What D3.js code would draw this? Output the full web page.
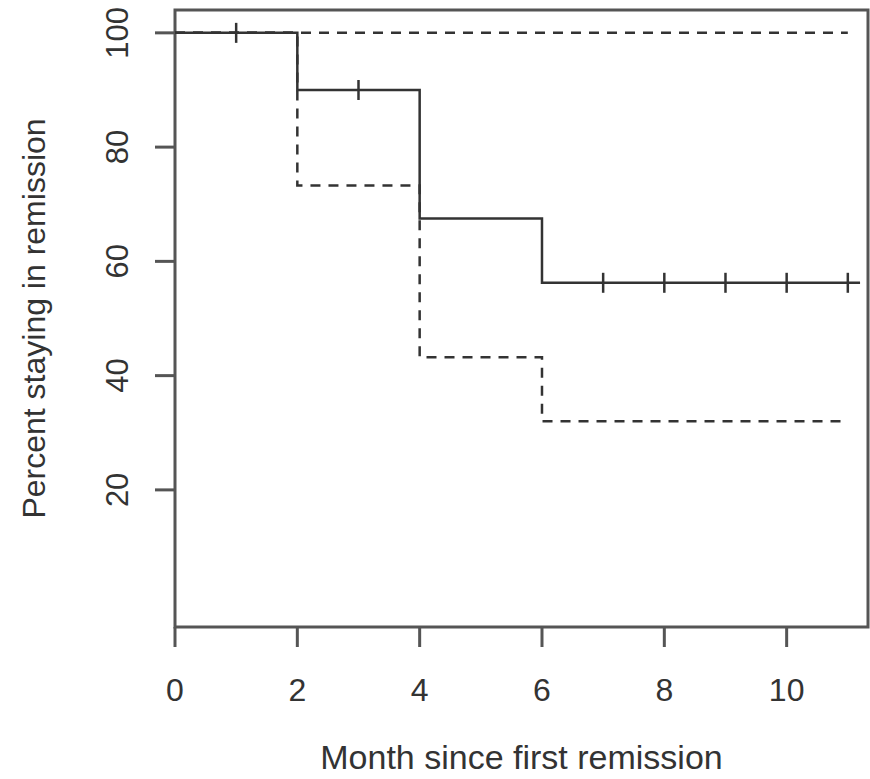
<!DOCTYPE html>
<html>
<head>
<meta charset="utf-8">
<script src="https://cdn.jsdelivr.net/npm/d3@7"></script>
<style>
  body { margin: 0; background: #fff; }
  text { font-family: "Liberation Sans", Arial, sans-serif; fill: #333; }
</style>
</head>
<body>
<div id="chart"></div>
<script>
// Kaplan-Meier steps (percent staying in remission)
const solidTimes = [0, 2, 4, 6, 11.2];
const solidSurv = [100, 90, 67.5, 56.25, 56.25];
const solidCensor = [1, 3, 7, 8, 9, 10, 11];

const dashedTimes = [0, 2, 4, 6, 10.9];
const dashedSurv = [100, 73.3, 43.2, 32.0, 32.0];

const flatTimes = [0, 11];
const flatSurv = [100, 100];

const xTicks = [0, 2, 4, 6, 8, 10];
const yTicks = [20, 40, 60, 80, 100];

const W = 870, H = 779;
const plotL = 175, plotR = 868, plotT = 10, plotB = 627;

const svg = d3.select("#chart").append("svg")
  .attr("width", W)
  .attr("height", H);

const x = d3.scaleLinear().domain([0, 11.33]).range([plotL, plotR]);
const y = d3.scaleLinear().domain([-4, 104]).range([plotB, plotT]);

const ink = "#333";

// plot frame
svg.append("rect")
  .attr("x", plotL).attr("y", plotT)
  .attr("width", plotR - plotL).attr("height", plotB - plotT)
  .attr("fill", "none")
  .attr("stroke", "#555")
  .attr("stroke-width", 3);

// x axis ticks + labels
svg.selectAll(".xtick").data(xTicks).enter().append("line")
  .attr("x1", d => x(d)).attr("x2", d => x(d))
  .attr("y1", plotB).attr("y2", plotB + 20)
  .attr("stroke", "#555").attr("stroke-width", 3);

svg.selectAll(".xlab").data(xTicks).enter().append("text")
  .attr("x", d => x(d))
  .attr("y", 701)
  .attr("text-anchor", "middle")
  .style("font-size", "32px")
  .text(d => d);

// y axis ticks + rotated labels
svg.selectAll(".ytick").data(yTicks).enter().append("line")
  .attr("x1", plotL).attr("x2", plotL - 20)
  .attr("y1", d => y(d)).attr("y2", d => y(d))
  .attr("stroke", "#555").attr("stroke-width", 3);

svg.selectAll(".ylab").data(yTicks).enter().append("text")
  .attr("transform", d => "translate(128," + y(d) + ") rotate(-90)")
  .attr("text-anchor", "middle")
  .style("font-size", "31px")
  .text(d => d);

// axis titles
svg.append("text")
  .attr("x", (plotL + plotR) / 2)
  .attr("y", 769)
  .attr("text-anchor", "middle")
  .style("font-size", "34px")
  .text("Month since first remission");

svg.append("text")
  .attr("transform", "translate(45," + ((plotT + plotB) / 2) + ") rotate(-90)")
  .attr("text-anchor", "middle")
  .style("font-size", "32px")
  .text("Percent staying in remission");

// survival curves
const step = d3.line()
  .x(d => x(d[0]))
  .y(d => y(d[1]))
  .curve(d3.curveStepAfter);

function drawCurve(times, surv, dashed) {
  svg.append("path")
    .datum(d3.zip(times, surv))
    .attr("fill", "none")
    .attr("stroke", ink)
    .attr("stroke-width", 2.5)
    .attr("stroke-dasharray", dashed ? "10,8" : null)
    .attr("d", step);
}

drawCurve(flatTimes, flatSurv, true);
drawCurve(dashedTimes, dashedSurv, true);
drawCurve(solidTimes, solidSurv, false);

// censor marks on the solid curve
const survAt = t => solidSurv[d3.bisectRight(solidTimes, t) - 1];
svg.selectAll(".censor").data(solidCensor).enter().append("line")
  .attr("x1", d => x(d)).attr("x2", d => x(d))
  .attr("y1", d => y(survAt(d)) - 10)
  .attr("y2", d => y(survAt(d)) + 10)
  .attr("stroke", ink)
  .attr("stroke-width", 2.5);
</script>
</body>
</html>
